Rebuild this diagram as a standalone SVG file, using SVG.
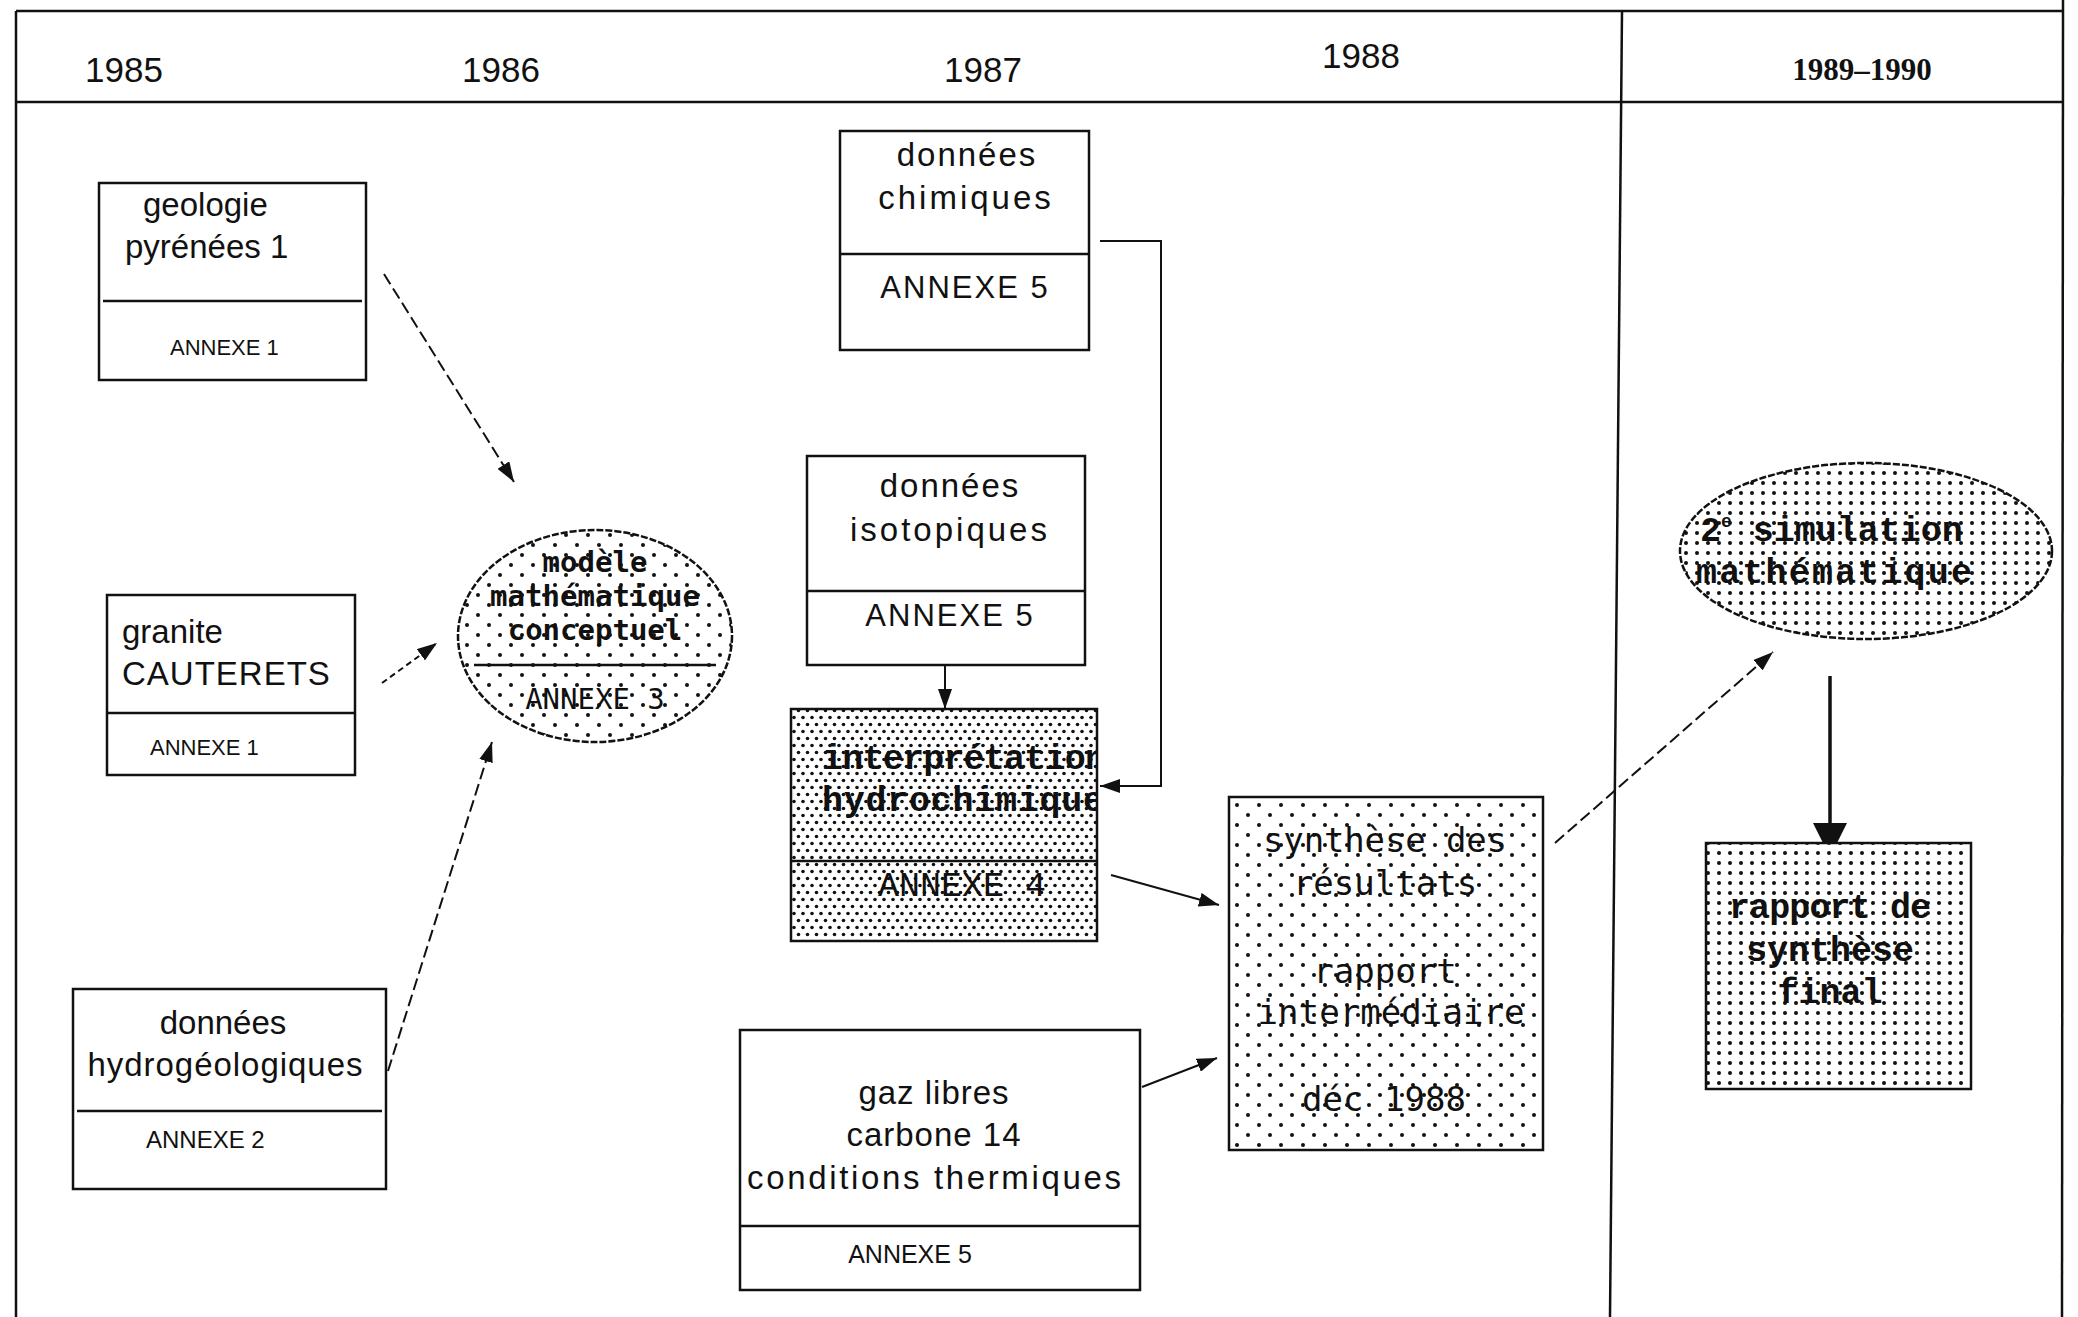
<svg xmlns="http://www.w3.org/2000/svg" width="2078" height="1317" viewBox="0 0 2078 1317">
<style>
.frame{fill:none;stroke:#111;stroke-width:2.5}
.box{fill:#fff;stroke:#111;stroke-width:2.5}
.div{stroke:#111;stroke-width:2.5}
.t{font-family:"Liberation Sans",Arial,sans-serif;font-size:33px;fill:#111}
.ts{font-family:"Liberation Sans",Arial,sans-serif;font-size:22px;fill:#111}
.m{font-family:"DejaVu Sans Mono","Liberation Mono",monospace;font-size:34px;fill:#111}
.mb{font-family:"DejaVu Sans Mono","Liberation Mono",monospace;font-size:29px;font-weight:bold;fill:#111}
.c{font-family:"Liberation Mono","DejaVu Sans Mono",monospace;font-size:35px;font-weight:bold;fill:#111}
.yr{font-family:"Liberation Sans",Arial,sans-serif;font-size:35px;fill:#111}
.conn{fill:none;stroke:#111;stroke-width:2}
.dash{stroke-dasharray:12 5}
.sdash{stroke-dasharray:6 4}
</style>
<defs>
<pattern id="sparse" patternUnits="userSpaceOnUse" width="22" height="20">
<circle cx="5" cy="5" r="2" fill="#111"/>
<circle cx="16" cy="15" r="2" fill="#111"/>
</pattern>
<pattern id="medium" patternUnits="userSpaceOnUse" width="11" height="10">
<circle cx="3" cy="3" r="2" fill="#111"/>
</pattern>
<pattern id="dense" patternUnits="userSpaceOnUse" width="9" height="14">
<circle cx="2" cy="3.5" r="1.8" fill="#111"/>
<circle cx="6.5" cy="10.5" r="1.8" fill="#111"/>
</pattern>
<marker id="arr" markerUnits="userSpaceOnUse" markerWidth="20" markerHeight="14" refX="20" refY="7" orient="auto">
<path d="M0,0 L20,7 L0,14 Z" fill="#111"/>
</marker>
<marker id="arrbig" markerUnits="userSpaceOnUse" markerWidth="36" markerHeight="34" refX="34" refY="17" orient="auto">
<path d="M0,0 L34,17 L0,34 Z" fill="#111"/>
</marker>
<clipPath id="clipInt"><rect x="791" y="709" width="306" height="232"/></clipPath>
</defs>
<rect width="2078" height="1317" fill="#fff"/>

<g id="frame">
<line class="frame" x1="16" y1="11" x2="2063" y2="11"/>
<line class="frame" x1="16" y1="102" x2="2063" y2="102"/>
<line class="frame" x1="16" y1="11" x2="16" y2="1317"/>
<line class="frame" x1="1622" y1="11" x2="1610" y2="1317"/>
<line class="frame" x1="2063" y1="0" x2="2062" y2="1317"/>
<text class="yr" x="124" y="82" text-anchor="middle">1985</text>
<text class="yr" x="501" y="82" text-anchor="middle">1986</text>
<text class="yr" x="983" y="82" text-anchor="middle">1987</text>
<text class="yr" x="1361" y="68" text-anchor="middle">1988</text>
<text x="1862" y="80" text-anchor="middle" style="font-family:'Liberation Serif','Times New Roman',serif;font-size:31px;font-weight:bold;fill:#111">1989–1990</text>
</g>

<g id="connectors">
<line class="conn dash" x1="384" y1="274" x2="514" y2="482" marker-end="url(#arr)"/>
<line class="conn sdash" x1="382" y1="683" x2="437" y2="643" marker-end="url(#arr)"/>
<line class="conn dash" x1="388" y1="1071" x2="492" y2="742" marker-end="url(#arr)"/>
<polyline class="conn" points="1100,241 1161,241 1161,786 1100,786" marker-end="url(#arr)"/>
<line class="conn" x1="945" y1="665" x2="945" y2="709" marker-end="url(#arr)"/>
<line class="conn" x1="1111" y1="875" x2="1219" y2="905" marker-end="url(#arr)"/>
<line class="conn" x1="1142" y1="1087" x2="1217" y2="1058" marker-end="url(#arr)"/>
<line class="conn dash" x1="1555" y1="843" x2="1773" y2="652" marker-end="url(#arr)"/>
<line class="conn" style="stroke-width:3.5" x1="1830" y1="676" x2="1830" y2="857" marker-end="url(#arrbig)"/>
</g>

<g id="geologie">
<rect class="box" x="99" y="183" width="267" height="197"/>
<line class="div" x1="103" y1="301" x2="362" y2="301"/>
<text class="t" x="143" y="216">geologie</text>
<text class="t" x="125" y="258">pyrénées 1</text>
<text class="ts" x="170" y="355">ANNEXE 1</text>
</g>

<g id="granite">
<rect class="box" x="107" y="595" width="248" height="180"/>
<line class="div" x1="107" y1="713" x2="355" y2="713"/>
<text class="t" x="122" y="643">granite</text>
<text class="t" x="122" y="685" style="letter-spacing:1px">CAUTERETS</text>
<text class="ts" x="150" y="755">ANNEXE 1</text>
</g>

<g id="hydro">
<rect class="box" x="73" y="989" width="313" height="200"/>
<line class="div" x1="77" y1="1111" x2="382" y2="1111"/>
<text class="t" x="223" y="1034" text-anchor="middle">données</text>
<text class="t" x="225" y="1076" text-anchor="middle" textLength="275">hydrogéologiques</text>
<text class="ts" x="146" y="1148" style="font-size:24px">ANNEXE 2</text>
</g>

<g id="modele">
<ellipse cx="595" cy="636" rx="137" ry="106" fill="#fff"/>
<ellipse cx="595" cy="636" rx="137" ry="106" fill="url(#sparse)" stroke="#111" stroke-width="2.5" stroke-dasharray="7 2"/>
<line class="div" x1="474" y1="665" x2="716" y2="665"/>
<text class="mb" x="595" y="572" text-anchor="middle">modèle</text>
<text class="mb" x="595" y="606" text-anchor="middle" textLength="210">mathématique</text>
<text class="mb" x="595" y="640" text-anchor="middle">conceptuel</text>
<text class="mb" x="595" y="709" text-anchor="middle" style="font-weight:normal">ANNEXE 3</text>
</g>

<g id="chimiques">
<rect class="box" x="840" y="131" width="249" height="219"/>
<line class="div" x1="840" y1="254" x2="1089" y2="254"/>
<text class="t" x="967" y="166" text-anchor="middle" style="letter-spacing:2px">données</text>
<text class="t" x="966" y="209" text-anchor="middle" style="letter-spacing:3px">chimiques</text>
<text class="t" x="965" y="298" text-anchor="middle" style="font-size:31px;letter-spacing:2px">ANNEXE 5</text>
</g>

<g id="isotopiques">
<rect class="box" x="807" y="456" width="278" height="209"/>
<line class="div" x1="807" y1="591" x2="1085" y2="591"/>
<text class="t" x="950" y="497" text-anchor="middle" style="letter-spacing:2px">données</text>
<text class="t" x="950" y="541" text-anchor="middle" style="letter-spacing:3px">isotopiques</text>
<text class="t" x="950" y="626" text-anchor="middle" style="font-size:31px;letter-spacing:2px">ANNEXE 5</text>
</g>

<g id="interpretation">
<rect x="791" y="709" width="306" height="232" fill="#fff"/>
<rect x="791" y="709" width="306" height="232" fill="url(#dense)" stroke="#111" stroke-width="2.5"/>
<line class="div" x1="791" y1="861" x2="1097" y2="861"/>
<g clip-path="url(#clipInt)">
<text class="c" x="822" y="769" textLength="284">interprétation</text>
<text class="c" x="822" y="811" textLength="282">hydrochimique</text>
</g>
<text class="c" x="962" y="896" text-anchor="middle" style="font-weight:normal">ANNEXE 4</text>
</g>

<g id="gaz">
<rect class="box" x="740" y="1030" width="400" height="260"/>
<line class="div" x1="740" y1="1226" x2="1140" y2="1226"/>
<text class="t" x="934" y="1104" text-anchor="middle" style="letter-spacing:1px">gaz libres</text>
<text class="t" x="934" y="1146" text-anchor="middle" style="letter-spacing:1px">carbone 14</text>
<text class="t" x="934" y="1189" text-anchor="middle" textLength="374">conditions thermiques</text>
<text class="ts" x="910" y="1263" text-anchor="middle" style="font-size:25px">ANNEXE 5</text>
</g>

<g id="synthese">
<rect x="1229" y="797" width="314" height="353" fill="#fff"/>
<rect x="1229" y="797" width="314" height="353" fill="url(#sparse)" stroke="#111" stroke-width="2.5"/>
<text class="m" x="1385" y="852" text-anchor="middle" textLength="244">synthèse des</text>
<text class="m" x="1385" y="895" text-anchor="middle">résultats</text>
<text class="m" x="1385" y="983" text-anchor="middle">rapport</text>
<text class="m" x="1391" y="1024" text-anchor="middle" textLength="267">intermédiaire</text>
<text class="m" x="1384" y="1111" text-anchor="middle">déc 1988</text>
</g>

<g id="simulation">
<ellipse cx="1866" cy="551" rx="186" ry="88" fill="#fff"/>
<ellipse cx="1866" cy="551" rx="186" ry="88" fill="url(#medium)" stroke="#111" stroke-width="2.5" stroke-dasharray="7 2"/>
<text class="c" x="1700" y="541">2<tspan style="font-size:18px" dy="-14">e</tspan><tspan dy="14"> simulation</tspan></text>
<text class="c" x="1696" y="583" textLength="276">mathématique</text>
</g>

<g id="rapport">
<rect x="1706" y="843" width="265" height="246" fill="#fff"/>
<rect x="1706" y="843" width="265" height="246" fill="url(#medium)" stroke="#111" stroke-width="2.5"/>
<text class="c" x="1830" y="918" text-anchor="middle" textLength="202">rapport de</text>
<text class="c" x="1830" y="961" text-anchor="middle">synthèse</text>
<text class="c" x="1830" y="1003" text-anchor="middle">final</text>
</g>
</svg>
